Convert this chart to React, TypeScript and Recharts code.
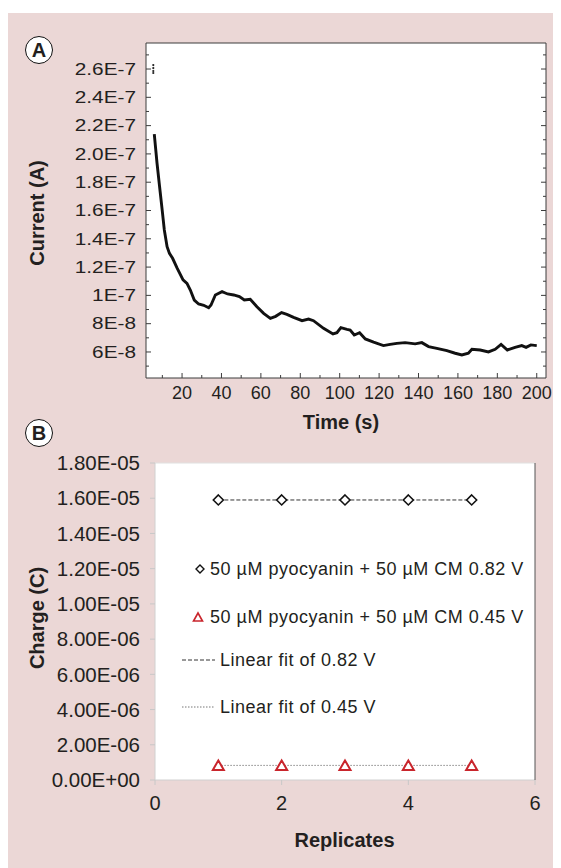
import { ComposedChart, Line, Scatter, XAxis, YAxis, CartesianGrid, Legend } from "recharts";

// panel A: chronoamperometry trace (current in nA)
const timeS = [
  5.9, 7.3, 8.6, 9.9, 11.0, 12.4, 13.6, 15.2, 17.5, 20.5, 22.5, 24.2, 26.2, 28.4, 31.0, 33.5, 34.7, 36.9,
  40.3, 43.1, 46.2, 49.1, 51.6, 54.6, 58.0, 61.4, 64.8, 67.5, 70.5, 73.2, 76.6, 80.9, 84.2, 86.7, 91.8,
  96.6, 98.6, 100.6, 103.7, 105.3, 107.4, 110.1, 113.0, 117.2, 122.2, 125.6, 129.0, 133.2, 138.3, 141.7,
  145.1, 149.3, 154.4, 158.6, 162.0, 165.3, 167.1, 171.3, 175.5, 178.9, 181.9, 185.1, 189.0, 192.4,
  194.6, 197.0, 200.0,
];
const currentNA = [
  214, 193.4, 176.8, 160.4, 146.2, 134.4, 129.7, 126.2, 119.2, 110.9, 108.5, 103.8, 96.7, 93.9, 93.0,
  91.3, 93.2, 100.3, 102.6, 101.0, 100.3, 99.1, 96.7, 97.2, 92.0, 87.3, 83.8, 85.2, 87.8, 86.6, 84.5,
  82.1, 83.3, 82.1, 76.7, 72.7, 73.6, 77.2, 76.0, 75.5, 72.0, 73.6, 69.2, 66.9, 64.5, 65.4, 66.1, 66.6,
  65.7, 66.6, 63.8, 62.6, 60.9, 59.1, 57.9, 59.1, 61.9, 61.4, 60.0, 61.9, 65.4, 61.4, 63.3, 64.5, 63.3,
  65.0, 64.5,
];
const spikeTimeS = [5.4, 5.4, 5.4, 5.4];
const spikeCurrentNA = [262.8, 260.7, 258.6, 257.2];

const timeTicks = [10, 20, 30, 40, 50, 60, 70, 80, 90, 100, 110, 120, 130, 140, 150, 160, 170, 180, 190, 200];
const timeLabelTicks = [20, 40, 60, 80, 100, 120, 140, 160, 180, 200];
const currentTicks = [50, 60, 70, 80, 90, 100, 110, 120, 130, 140, 150, 160, 170, 180, 190, 200, 210, 220, 230, 240, 250, 260, 270];
const currentLabelTicks = [60, 80, 100, 120, 140, 160, 180, 200, 220, 240, 260];
const currentLabels = ["6E-8", "8E-8", "1E-7", "1.2E-7", "1.4E-7", "1.6E-7", "1.8E-7", "2.0E-7", "2.2E-7", "2.4E-7", "2.6E-7"];

// panel B: charge per replicate
const replicates = [1, 2, 3, 4, 5];
const charge082 = [1.59e-5, 1.59e-5, 1.59e-5, 1.59e-5, 1.59e-5];
const charge045 = [8.3e-7, 8.3e-7, 8.3e-7, 8.3e-7, 8.3e-7];
const fit082 = [1.59e-5, 1.59e-5, 1.59e-5, 1.59e-5, 1.59e-5];
const fit045 = [8.3e-7, 8.3e-7, 8.3e-7, 8.3e-7, 8.3e-7];
const replicateTicks = [0, 2, 4, 6];
const chargeTicks = [0, 2e-6, 4e-6, 6e-6, 8e-6, 1e-5, 1.2e-5, 1.4e-5, 1.6e-5, 1.8e-5];
const chargeLabels = ["0.00E+00", "2.00E-06", "4.00E-06", "6.00E-06", "8.00E-06", "1.00E-05", "1.20E-05", "1.40E-05", "1.60E-05", "1.80E-05"];
const legendNames = [
  "50 µM pyocyanin + 50 µM CM 0.82 V",
  "50 µM pyocyanin + 50 µM CM 0.45 V",
  "Linear fit of 0.82 V",
  "Linear fit of 0.45 V",
];

const curveData = timeS.map((t, i) => ({ t, i: currentNA[i] }));
const spikeData = spikeTimeS.map((t, i) => ({ t, i: spikeCurrentNA[i] }));
const chargeRows = replicates.map((rep, i) => ({ rep, fit082: fit082[i], fit045: fit045[i] }));
const rows082 = replicates.map((rep, i) => ({ rep, q: charge082[i] }));
const rows045 = replicates.map((rep, i) => ({ rep, q: charge045[i] }));

const INK = "#231f20";
const FRAME = "#3c3c3c";
const RED = "#c9252c";
const PINK = "#ebd7d6";
const FONT = '"Liberation Sans", Arial, Helvetica, sans-serif';

function FrameTick(p: any) {
  const { x, y, payload, side } = p;
  const v = payload.value;
  if (side === "left" || side === "right") {
    const idx = currentLabelTicks.indexOf(v);
    const len = idx >= 0 ? 5 : 3;
    const dir = side === "left" ? 1 : -1;
    return (
      <g>
        <line x1={x} x2={x + dir * len} y1={y} y2={y} stroke={FRAME} strokeWidth={1} />
        {side === "left" && idx >= 0 && (
          <text
            transform={`translate(${x - 10},${y}) scale(1.3,1)`}
            textAnchor="end"
            dy="0.36em"
            fontSize={16}
            fontFamily={FONT}
            fill={INK}
          >
            {currentLabels[idx]}
          </text>
        )}
      </g>
    );
  }
  const major = timeLabelTicks.includes(v);
  const len = major ? 5 : 3;
  const dir = side === "bottom" ? -1 : 1;
  return (
    <g>
      <line x1={x} x2={x} y1={y} y2={y + dir * len} stroke={FRAME} strokeWidth={1} />
      {side === "bottom" && major && (
        <text x={x} y={y + 15} textAnchor="middle" dy="0.36em" fontSize={18} fontFamily={FONT} fill={INK}>
          {v}
        </text>
      )}
    </g>
  );
}

function Diamond(p: any) {
  const { cx, cy } = p;
  return (
    <polygon
      points={`${cx},${cy - 5} ${cx + 5},${cy} ${cx},${cy + 5} ${cx - 5},${cy}`}
      fill="#fff"
      stroke="#111"
      strokeWidth={1.6}
    />
  );
}

function Triangle(p: any) {
  const { cx, cy } = p;
  return (
    <polygon
      points={`${cx},${cy - 5} ${cx + 5.5},${cy + 4.5} ${cx - 5.5},${cy + 4.5}`}
      fill="#fff"
      stroke={RED}
      strokeWidth={2}
    />
  );
}

function LegendB() {
  const rowY = [16, 64, 107, 154];
  const textStyle = { fontSize: 18, letterSpacing: 0.5, color: INK, fontFamily: FONT, whiteSpace: "nowrap" as const };
  return (
    <div style={{ position: "relative", width: 370, height: 170 }}>
      {legendNames.map((name, k) => (
        <div key={name} style={{ position: "absolute", left: 0, top: rowY[k] - 11, height: 22, display: "flex", alignItems: "center" }}>
          <svg width={k < 2 ? 30 : 40} height={22} style={{ display: "block" }}>
            {k === 0 && <polygon points="22,7 26,11 22,15 18,11" fill="#fff" stroke="#111" strokeWidth={1.4} />}
            {k === 1 && <polygon points="20,7 24.5,15 15.5,15" fill="#fff" stroke={RED} strokeWidth={1.6} />}
            {k === 2 && <line x1={4} x2={37} y1={11} y2={11} stroke="#333" strokeWidth={1} strokeDasharray="4 2" />}
            {k === 3 && <line x1={4} x2={37} y1={11} y2={11} stroke="#777" strokeWidth={1} strokeDasharray="1.5 1.5" />}
          </svg>
          <span style={{ ...textStyle, marginLeft: 2 }}>{name}</span>
        </div>
      ))}
    </div>
  );
}

const titleStyle = {
  position: "absolute" as const,
  fontFamily: FONT,
  fontWeight: 700,
  fontSize: 20,
  color: INK,
  lineHeight: 1,
  whiteSpace: "nowrap" as const,
};

function Badge({ letter, cx, cy }: { letter: string; cx: number; cy: number }) {
  return (
    <div
      style={{
        position: "absolute",
        left: cx - 14,
        top: cy - 14,
        width: 28,
        height: 28,
        boxSizing: "border-box",
        borderRadius: "50%",
        border: "1.6px solid #111",
        background: "#fff",
        display: "flex",
        alignItems: "center",
        justifyContent: "center",
        fontFamily: FONT,
        fontWeight: 700,
        fontSize: 20,
        color: INK,
      }}
    >
      {letter}
    </div>
  );
}

export default function App() {
  return (
    <div style={{ paddingTop: 5, fontFamily: FONT }}>
      <div style={{ position: "relative", width: 550, height: 855, background: PINK }}>
        <div style={{ position: "absolute", left: 0, top: 0 }}>
          <ComposedChart width={550} height={420} margin={{ top: 29, right: 11, bottom: 25, left: 78 }}>
            <CartesianGrid xAxisId="b" yAxisId="l" fill="#fff" horizontal={false} vertical={false} />
            <XAxis
              xAxisId="b"
              type="number"
              dataKey="t"
              domain={[1.7, 204.7]}
              allowDataOverflow
              ticks={timeTicks}
              interval={0}
              height={30}
              tickSize={0}
              tickMargin={0}
              tickLine={false}
              axisLine={{ stroke: FRAME }}
              tick={(p: any) => <FrameTick {...p} side="bottom" />}
            />
            <XAxis
              xAxisId="t"
              orientation="top"
              type="number"
              domain={[1.7, 204.7]}
              allowDataOverflow
              ticks={timeTicks}
              interval={0}
              height={1}
              tickSize={0}
              tickMargin={0}
              tickLine={false}
              axisLine={{ stroke: FRAME }}
              tick={(p: any) => <FrameTick {...p} side="top" />}
            />
            <YAxis
              yAxisId="l"
              type="number"
              dataKey="i"
              domain={[41.6, 278.4]}
              allowDataOverflow
              ticks={currentTicks}
              interval={0}
              width={60}
              tickSize={0}
              tickMargin={0}
              tickLine={false}
              axisLine={{ stroke: FRAME }}
              tick={(p: any) => <FrameTick {...p} side="left" />}
            />
            <YAxis
              yAxisId="r"
              orientation="right"
              type="number"
              domain={[41.6, 278.4]}
              allowDataOverflow
              ticks={currentTicks}
              interval={0}
              width={1}
              tickSize={0}
              tickMargin={0}
              tickLine={false}
              axisLine={{ stroke: FRAME }}
              tick={(p: any) => <FrameTick {...p} side="right" />}
            />
            <Line
              xAxisId="b"
              yAxisId="l"
              data={curveData}
              dataKey="i"
              type="linear"
              stroke="#111"
              strokeWidth={2.9}
              dot={false}
              isAnimationActive={false}
            />
            <Scatter
              xAxisId="b"
              yAxisId="l"
              data={spikeData}
              dataKey="i"
              shape={(p: any) => <circle cx={p.cx} cy={p.cy} r={1.1} fill="#222" />}
              isAnimationActive={false}
            />
          </ComposedChart>
        </div>

        <div style={{ position: "absolute", left: 0, top: 420 }}>
          <ComposedChart width={550} height={435} data={chargeRows} margin={{ top: 29, right: 22, bottom: 48, left: 67 }}>
            <CartesianGrid xAxisId="b" yAxisId="l" fill="#fff" horizontal={false} vertical={false} />
            <XAxis
              xAxisId="b"
              type="number"
              dataKey="rep"
              domain={[0, 6]}
              ticks={replicateTicks}
              interval={0}
              height={40}
              tickSize={5}
              tickMargin={11}
              tickLine={{ stroke: "#c8c8c8" }}
              axisLine={{ stroke: "#d0d0d0" }}
              tick={{ fill: INK, fontSize: 20, fontFamily: FONT }}
            />
            <XAxis
              xAxisId="t"
              orientation="top"
              type="number"
              domain={[0, 6]}
              height={1}
              tick={false}
              tickLine={false}
              axisLine={{ stroke: "#e0e0e0" }}
            />
            <YAxis
              yAxisId="l"
              type="number"
              dataKey="q"
              domain={[0, 1.8e-5]}
              allowDataOverflow
              ticks={chargeTicks}
              interval={0}
              width={80}
              tickSize={5}
              tickMargin={10}
              tickLine={{ stroke: "#c8c8c8" }}
              axisLine={{ stroke: "#d0d0d0" }}
              tick={{ fill: INK, fontSize: 20.5, fontFamily: FONT }}
              tickFormatter={(v: number) => chargeLabels[Math.round(v / 2e-6)]}
            />
            <YAxis
              yAxisId="r"
              orientation="right"
              type="number"
              domain={[0, 1.8e-5]}
              width={1}
              tick={false}
              tickLine={false}
              axisLine={{ stroke: "#555" }}
            />
            <Line
              xAxisId="b"
              yAxisId="l"
              dataKey="fit082"
              name={legendNames[2]}
              stroke="#333"
              strokeWidth={1}
              strokeDasharray="4 2"
              dot={false}
              isAnimationActive={false}
            />
            <Line
              xAxisId="b"
              yAxisId="l"
              dataKey="fit045"
              name={legendNames[3]}
              stroke="#888"
              strokeWidth={1}
              strokeDasharray="1.5 1.5"
              dot={false}
              isAnimationActive={false}
            />
            <Scatter
              xAxisId="b"
              yAxisId="l"
              data={rows082}
              dataKey="q"
              name={legendNames[0]}
              shape={Diamond}
              isAnimationActive={false}
            />
            <Scatter
              xAxisId="b"
              yAxisId="l"
              data={rows045}
              dataKey="q"
              name={legendNames[1]}
              shape={Triangle}
              isAnimationActive={false}
            />
            <Legend
              layout="vertical"
              align="center"
              verticalAlign="middle"
              wrapperStyle={{ left: 170, top: 120 }}
              content={() => <LegendB />}
            />
          </ComposedChart>
        </div>

        <Badge letter="A" cx={31} cy={37} />
        <Badge letter="B" cx={31} cy={420} />
        <div style={{ ...titleStyle, left: 333, top: 409, transform: "translate(-50%,-50%)" }}>Time (s)</div>
        <div style={{ ...titleStyle, left: 29, top: 200, transform: "translate(-50%,-50%) rotate(-90deg)" }}>Current (A)</div>
        <div style={{ ...titleStyle, left: 336.5, top: 827, transform: "translate(-50%,-50%)" }}>Replicates</div>
        <div style={{ ...titleStyle, left: 29, top: 605, transform: "translate(-50%,-50%) rotate(-90deg)" }}>Charge (C)</div>
      </div>
    </div>
  );
}
